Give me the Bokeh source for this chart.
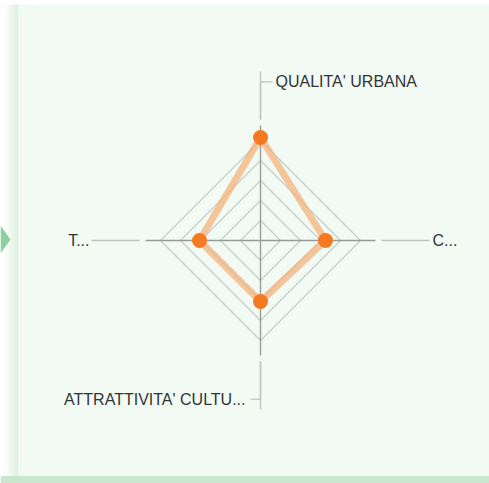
import numpy as np
from bokeh.plotting import figure
from bokeh.models import Range1d
from bokeh.core.properties import value
from bokeh.embed import file_html
from bokeh.resources import INLINE

# --- data ---
categories = ["QUALITA' URBANA", "C...", "ATTRATTIVITA' CULTU...", "T..."]
values = [5.15, 3.25, 3.05, 3.05]          # top, right, bottom, left
ring_levels = [1, 2, 3, 4, 5]
axis_max = 5.75

W, H = 489, 483
PX = 20.0  # pixels per unit
cx, cy = 260, 240  # centre in plot pixels
p = figure(width=W, height=H, output_backend="svg", toolbar_location=None,
           x_range=Range1d(-cx / PX, (W - cx) / PX),
           y_range=Range1d(-(H - cy) / PX, cy / PX),
           min_border=0)
p.axis.visible = False
p.grid.visible = False
p.outline_line_color = None
p.background_fill_color = "white"
p.border_fill_color = "white"

def ux(px):
    return (px - cx) / PX
def uy(py):
    return (cy - py) / PX

# panel shadow gradient on the left and bottom band
n = 16
for i in range(n):
    x0 = ux(2 + i)
    p.quad(left=x0, right=x0 + 1 / PX, bottom=uy(483), top=uy(4),
           fill_color="#c6e6cc", fill_alpha=((i + 1) / n) ** 1.5 * 0.75, line_color=None)
p.quad(left=ux(0), right=ux(489), bottom=uy(483), top=uy(475.5),
       fill_color="#c9e7cf", line_color=None)
# panel
p.quad(left=ux(18), right=ux(489), bottom=uy(475.5), top=uy(4),
       fill_color="#f1fbf4", line_color=None)
# left triangle marker
p.patch([ux(0), ux(10), ux(0)], [uy(225), uy(239), uy(253)],
        fill_color="#8fd09f", line_color=None)

# angles: top, right, bottom, left
angles = [np.pi / 2, 0.0, -np.pi / 2, np.pi]
cosv = np.round(np.cos(angles), 6)
sinv = np.round(np.sin(angles), 6)

# grid rings
for r in ring_levels:
    xs = list(r * cosv) + [r * cosv[0]]
    ys = list(r * sinv) + [r * sinv[0]]
    p.line(xs, ys, line_color="#c4cec8", line_width=1.2)

# axes
for c, s in zip(cosv, sinv):
    p.line([0, axis_max * c], [0, axis_max * s], line_color="#979b99", line_width=1.4)

# leader lines
lead_start, lead_end = 6.05, 8.45
for c, s in zip(cosv, sinv):
    p.line([lead_start * c, lead_end * c], [lead_start * s, lead_end * s],
           line_color="#bfc5c1", line_width=1.4)
# elbows for top / bottom
top_y = 7.93
p.line([0, 0, 0.6], [6.05, top_y, top_y], line_color="#bfc5c1", line_width=1.4)
p.line([0, 0, -0.5], [-6.05, -top_y, -top_y], line_color="#bfc5c1", line_width=1.4)

# data polygon
xs = [v * c for v, c in zip(values, cosv)]
ys = [v * s for v, s in zip(values, sinv)]
p.line(xs + [xs[0]], ys + [ys[0]], line_color="#f4b27c", line_alpha=0.75,
       line_width=7, line_join="round")
p.scatter(xs, ys, size=15, fill_color="#f47920", line_color="#f47920", line_width=0)

# labels
font = value("Liberation Sans")
fs = "16px"
col = "#333333"
p.text(x=[0.75], y=[top_y], text=[categories[0]], text_font=font,
       text_font_size=fs, text_color=col, text_baseline="middle", text_align="left")
p.text(x=[8.6], y=[0], text=[categories[1]], text_font=font,
       text_font_size=fs, text_color=col, text_baseline="middle", text_align="left")
p.text(x=[-0.75], y=[-top_y], text=[categories[2]], text_font=font,
       text_font_size=fs, text_color=col, text_baseline="middle", text_align="right")
p.text(x=[-8.55], y=[0], text=[categories[3]], text_font=font,
       text_font_size=fs, text_color=col, text_baseline="middle", text_align="right")

open("out.html", "w").write(file_html(p, INLINE))
